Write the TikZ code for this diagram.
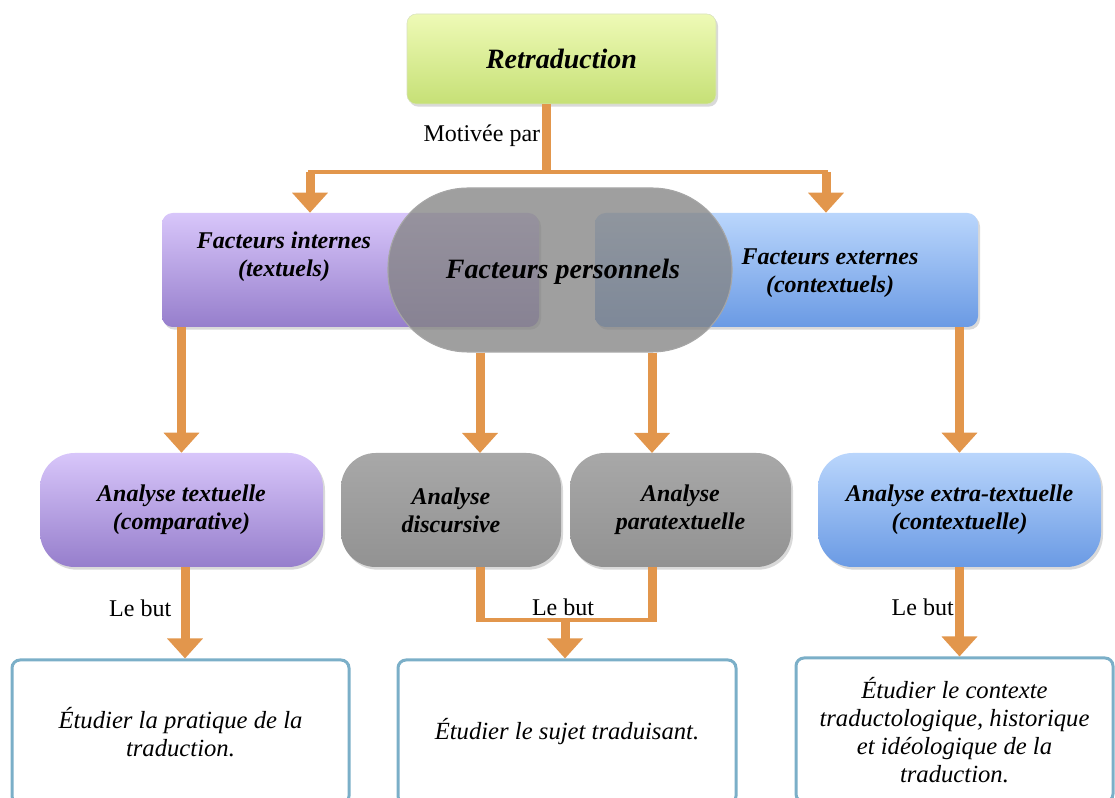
\documentclass[tikz,border=0pt]{standalone}
\usepackage{fontspec}
\setmainfont{Liberation Serif}
\usetikzlibrary{arrows.meta}
\usetikzlibrary{shadows}
\usetikzlibrary{positioning}

\definecolor{vertHaut}{RGB}{238,250,182}
\definecolor{vertBas}{RGB}{198,224,118}
\definecolor{lilasHaut}{RGB}{216,198,250}
\definecolor{lilasBas}{RGB}{150,126,204}
\definecolor{bleuHaut}{RGB}{186,214,252}
\definecolor{bleuBas}{RGB}{106,154,228}
\definecolor{grisHaut}{RGB}{168,168,168}
\definecolor{grisBas}{RGB}{146,146,146}
\definecolor{orangeLien}{RGB}{226,150,76}
\definecolor{cadre}{RGB}{123,175,200}

\begin{document}
\begin{tikzpicture}[
		x=0.75pt, y=-0.75pt,
		ombre/.style={drop shadow={opacity=0.3,shadow xshift=1.5pt,shadow yshift=-2pt}},
		titre/.style={font=\fontsize{21}{25}\selectfont\bfseries\itshape},
		gras/.style={font=\fontsize{18}{21}\selectfont\bfseries\itshape, align=center},
		etiq/.style={font=\fontsize{18}{21}\selectfont, inner sep=1pt},
		facteur/.style={rounded corners=8pt, minimum height=85.5pt, ombre},
		analyse/.style={rounded corners=26pt, minimum height=85.5pt, ombre, gras},
		objectif/.style={draw=cadre, line width=2.25pt, rounded corners=6pt,
			minimum height=108pt, fill=white, align=center,
			font=\fontsize{18.5}{21}\selectfont\itshape},
		lien/.style={draw=orangeLien, line width=6.75pt},
		barre/.style={draw=orangeLien, line width=3.5pt, line cap=rect},
		fleche/.style={lien, -{Triangle[width=26pt,length=15pt]}}
	]
	\useasboundingbox (0,0) rectangle (1115,798);
	\clip (0,0) rectangle (1115,798);

	% niveau 1
	\node[facteur, rounded corners=7pt, minimum width=231.75pt, minimum height=67.5pt,
		top color=vertHaut, bottom color=vertBas, draw=vertBas!80!black!40, titre]
		(retr) at (561.5,59) {Retraduction};

	% niveau 2
	\node[facteur, minimum width=282.75pt, top color=lilasHaut, bottom color=lilasBas]
		(int) at (350.5,270) {};
	\node[facteur, minimum width=287.25pt, top color=bleuHaut, bottom color=bleuBas]
		(ext) at (786.5,270) {};
	\node[gras] (intTxt) at (284,257) {Facteurs internes\\(textuels)};
	\node[gras] (extTxt) at (830,273) {Facteurs externes\\(contextuels)};
	\node[rounded corners=60pt, minimum width=258pt, minimum height=123pt,
		fill={rgb,255:red,132;green,132;blue,132}, fill opacity=0.78,
		draw=gray!70, line width=0.8pt] (pers) at (560,270) {};
	\node[titre] (persTxt) at (563,272) {Facteurs personnels};

	% niveau 3
	\node[analyse, minimum width=212.25pt, top color=lilasHaut, bottom color=lilasBas]
		(txt) at (181.5,510) {Analyse textuelle\\(comparative)};
	\node[analyse, minimum width=165pt, top color=grisHaut, bottom color=grisBas]
		(disc) at (451,510) {Analyse\\discursive};
	\node[analyse, minimum width=165.75pt, top color=grisHaut, bottom color=grisBas]
		(para) at (680.5,510) {Analyse\\paratextuelle};
	\node[analyse, minimum width=212.25pt, top color=bleuHaut, bottom color=bleuBas]
		(extra) at (959.5,510) {Analyse extra-textuelle\\(contextuelle)};

	% niveau 4
	\node[objectif, minimum width=252.75pt] (but1) at (180.5,732)
		{Étudier la pratique de la\\traduction.};
	\node[objectif, minimum width=253.5pt] (but2) at (567,732)
		{Étudier le sujet traduisant.};
	\node[objectif, minimum width=237.75pt] (but3) at (954.5,730)
		{Étudier le contexte\\traductologique, historique\\et idéologique de la\\traduction.};

	% liens du haut
	\coordinate (jM) at (546,172);
	\coordinate (jL) at (310,172);
	\coordinate (jR) at (826,172);
	\draw[lien] (retr.south -| jM) -- (jM) node[etiq, left, pos=0.47] {Motivée par};
	\draw[barre] (jL) -- (jR);
	\draw[fleche] (jL) -- (jL |- int.north);
	\draw[fleche] (jR) -- (jR |- ext.north);

	% liens du milieu
	\coordinate (dIn) at (480,453);
	\coordinate (pIn) at (652,453);
	\draw[fleche] (int.south -| txt.north) -- (txt.north);
	\draw[fleche] (dIn |- pers.south) -- (dIn);
	\draw[fleche] (pIn |- pers.south) -- (pIn);
	\draw[fleche] (ext.south -| extra.north) -- (extra.north);

	% liens du bas
	\coordinate (jB) at (565,620);
	\draw[fleche] (txt.south -| 185,0) -- (but1.north -| 185,0)
		node[etiq, left, pos=0.45, xshift=-6pt] {Le but};
	\draw[lien] (disc.south -| dIn) -- (480,622.3);
	\draw[lien] (para.south -| pIn) -- (652,622.3);
	\draw[barre] (480,620) -- (652,620);
	\draw[fleche] (jB) -- (jB |- but2.north);
	\node[etiq] (butMil) at (563,607) {Le but};
	\draw[fleche] (extra.south) -- (but3.north -| extra.south)
		node[etiq, left, pos=0.45] {Le but};
\end{tikzpicture}
\end{document}
